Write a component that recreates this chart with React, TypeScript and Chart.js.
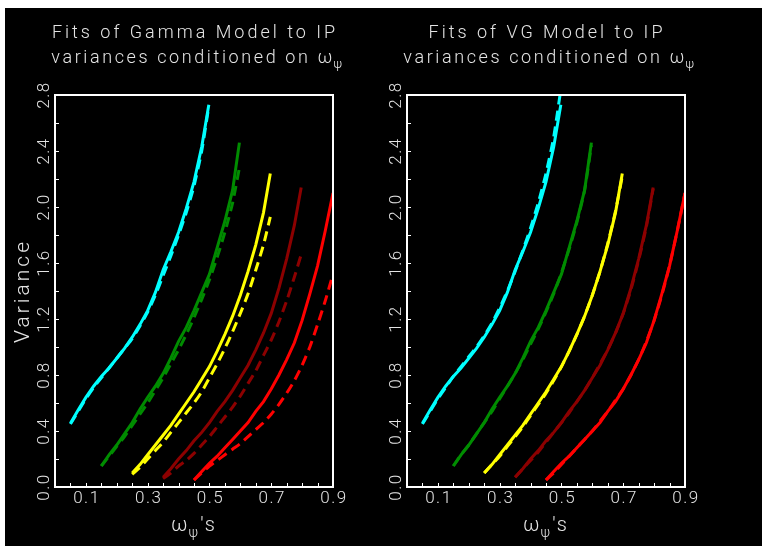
import { useEffect, useRef } from "react";
import { Chart, registerables } from "chart.js";
Chart.register(...registerables);

// ---------- data ----------
const cyanX = [0.05, 0.075, 0.1, 0.125, 0.15, 0.175, 0.2, 0.225, 0.25, 0.275, 0.3, 0.325, 0.35, 0.375, 0.4, 0.425, 0.45, 0.475, 0.498];
const cyanData = [0.455, 0.55, 0.64, 0.72, 0.79, 0.85, 0.92, 0.99, 1.07, 1.16, 1.26, 1.39, 1.55, 1.68, 1.82, 1.99, 2.18, 2.43, 2.73];
const cyanGamma = [0.45, 0.54, 0.63, 0.71, 0.78, 0.85, 0.92, 0.99, 1.06, 1.15, 1.25, 1.37, 1.51, 1.65, 1.8, 1.96, 2.15, 2.4, 2.72];
const cyanVG = [0.45, 0.54, 0.63, 0.71, 0.79, 0.86, 0.93, 1.0, 1.08, 1.17, 1.28, 1.4, 1.54, 1.69, 1.85, 2.03, 2.24, 2.5, 2.84];

const greenX = [0.15, 0.175, 0.2, 0.225, 0.25, 0.275, 0.3, 0.325, 0.35, 0.375, 0.4, 0.425, 0.45, 0.475, 0.5, 0.525, 0.55, 0.575, 0.597];
const greenData = [0.15, 0.23, 0.3, 0.38, 0.46, 0.555, 0.64, 0.72, 0.81, 0.92, 1.04, 1.14, 1.26, 1.39, 1.52, 1.71, 1.9, 2.12, 2.46];
const greenGamma = [0.15, 0.22, 0.29, 0.36, 0.44, 0.52, 0.6, 0.69, 0.78, 0.88, 0.98, 1.09, 1.21, 1.34, 1.48, 1.64, 1.82, 2.03, 2.28];
const greenVG = [0.15, 0.23, 0.3, 0.38, 0.46, 0.54, 0.63, 0.72, 0.81, 0.91, 1.02, 1.13, 1.25, 1.38, 1.53, 1.7, 1.89, 2.12, 2.44];

const yellowX = [0.25, 0.275, 0.3, 0.325, 0.35, 0.375, 0.4, 0.425, 0.45, 0.475, 0.5, 0.525, 0.55, 0.575, 0.6, 0.625, 0.65, 0.675, 0.697];
const yellowData = [0.1, 0.16, 0.23, 0.3, 0.37, 0.44, 0.52, 0.6, 0.68, 0.77, 0.86, 0.97, 1.09, 1.22, 1.37, 1.54, 1.73, 1.96, 2.24];
const yellowGamma = [0.09, 0.14, 0.2, 0.26, 0.32, 0.39, 0.46, 0.53, 0.6, 0.68, 0.78, 0.88, 0.99, 1.11, 1.24, 1.38, 1.55, 1.73, 1.93];
const yellowVG = [0.1, 0.16, 0.22, 0.29, 0.36, 0.43, 0.51, 0.59, 0.67, 0.76, 0.86, 0.97, 1.09, 1.22, 1.37, 1.54, 1.74, 1.97, 2.22];

const darkRedX = [0.35, 0.375, 0.4, 0.425, 0.45, 0.475, 0.5, 0.525, 0.55, 0.575, 0.6, 0.625, 0.65, 0.675, 0.7, 0.725, 0.75, 0.775, 0.797];
const darkRedData = [0.07, 0.13, 0.2, 0.26, 0.33, 0.39, 0.46, 0.54, 0.61, 0.69, 0.78, 0.87, 0.98, 1.1, 1.24, 1.42, 1.63, 1.87, 2.14];
const darkRedGamma = [0.06, 0.1, 0.15, 0.19, 0.24, 0.3, 0.36, 0.43, 0.5, 0.57, 0.65, 0.74, 0.83, 0.94, 1.05, 1.18, 1.33, 1.5, 1.66];
const darkRedVG = [0.07, 0.13, 0.19, 0.25, 0.32, 0.39, 0.46, 0.53, 0.61, 0.69, 0.78, 0.88, 0.98, 1.1, 1.24, 1.41, 1.62, 1.86, 2.13];

const redX = [0.45, 0.475, 0.5, 0.525, 0.55, 0.575, 0.6, 0.625, 0.65, 0.675, 0.7, 0.725, 0.75, 0.775, 0.8, 0.825, 0.85, 0.875, 0.9];
const redData = [0.05, 0.11, 0.17, 0.22, 0.28, 0.34, 0.4, 0.46, 0.54, 0.61, 0.7, 0.8, 0.91, 1.03, 1.19, 1.38, 1.58, 1.83, 2.1];
const redGamma = [0.05, 0.1, 0.15, 0.19, 0.23, 0.27, 0.31, 0.36, 0.41, 0.46, 0.52, 0.59, 0.67, 0.76, 0.87, 1.0, 1.16, 1.33, 1.52];
const redVG = [0.05, 0.1, 0.16, 0.22, 0.28, 0.34, 0.4, 0.47, 0.54, 0.62, 0.7, 0.8, 0.91, 1.04, 1.19, 1.37, 1.58, 1.83, 2.1];

const xTickMarks = [0.05, 0.1, 0.15, 0.2, 0.25, 0.3, 0.35, 0.4, 0.45, 0.5, 0.55, 0.6, 0.65, 0.7, 0.75, 0.8, 0.85];
const xLabelValues = [0.1, 0.3, 0.5, 0.7, 0.9];
const xLabels = ["0.1", "0.3", "0.5", "0.7", "0.9"];
const yTickMarks = [0.2, 0.4, 0.6, 0.8, 1.0, 1.2, 1.4, 1.6, 1.8, 2.0, 2.2, 2.4, 2.6];
const yLabelValues = [0.0, 0.4, 0.8, 1.2, 1.6, 2.0, 2.4, 2.8];
const yLabels = ["0.0", "0.4", "0.8", "1.2", "1.6", "2.0", "2.4", "2.8"];

const gammaTitle = ["Fits of Gamma Model to IP", "variances conditioned on "];
const vgTitle = ["Fits of VG Model to IP", "variances conditioned on "];
const yTitle = "Variance";

// ---------- styling ----------
const COLORS = ["#00ffff", "#008c00", "#ffff00", "#8c0000", "#ff0000"];
const TEXT = "#e4e4e4";
const FONT = "Roboto";

const pts = (xs: number[], ys: number[]) => xs.map((x, i) => ({ x, y: ys[i] }));

function drawSubText(ctx: CanvasRenderingContext2D, x: number, y: number, size: number, spacing: number, pre: string, post: string, measureOnly = false) {
  ctx.font = `300 ${size}px ${FONT}`;
  ctx.letterSpacing = `${spacing}px`;
  const w1 = ctx.measureText(pre + "ω").width;
  ctx.font = `300 ${Math.round(size * 0.7)}px ${FONT}`;
  ctx.letterSpacing = "0px";
  const w2 = ctx.measureText("ψ").width + 1;
  ctx.font = `300 ${size}px ${FONT}`;
  ctx.letterSpacing = `${spacing}px`;
  const w3 = ctx.measureText(post).width;
  const total = w1 + w2 + w3;
  if (measureOnly) return total;
  ctx.textAlign = "left";
  ctx.fillText(pre + "ω", x, y);
  ctx.font = `300 ${Math.round(size * 0.7)}px ${FONT}`;
  ctx.letterSpacing = "0px";
  ctx.fillText("ψ", x + w1 - spacing + 1, y + size * 0.3);
  ctx.font = `300 ${size}px ${FONT}`;
  ctx.letterSpacing = `${spacing}px`;
  if (post) ctx.fillText(post, x + w1 + w2, y);
  return total;
}

function makeDecor(titles: string[], showYTitle: boolean) {
  return {
    id: "decor",
    afterDraw(chart: any) {
      const ctx: CanvasRenderingContext2D = chart.ctx;
      const { left, right, top, bottom } = chart.chartArea;
      const xs = chart.scales.x;
      const ys = chart.scales.y;
      ctx.save();
      ctx.strokeStyle = "#ffffff";
      ctx.lineWidth = 2;
      ctx.strokeRect(left, top, right - left, bottom - top);
      ctx.lineWidth = 1;
      ctx.beginPath();
      for (const v of xTickMarks) {
        const px = Math.round(xs.getPixelForValue(v)) + 0.5;
        ctx.moveTo(px, bottom);
        ctx.lineTo(px, bottom - 4);
      }
      for (const v of yTickMarks) {
        const py = Math.round(ys.getPixelForValue(v)) + 0.5;
        ctx.moveTo(left, py);
        ctx.lineTo(left + 4, py);
      }
      ctx.stroke();

      ctx.fillStyle = TEXT;
      ctx.font = `300 17px ${FONT}`;
      ctx.letterSpacing = "1.5px";
      ctx.textAlign = "center";
      ctx.textBaseline = "middle";
      xLabelValues.forEach((v, i) => {
        ctx.fillText(xLabels[i], xs.getPixelForValue(v) + 1, bottom + 12);
      });
      yLabelValues.forEach((v, i) => {
        const py = ys.getPixelForValue(v);
        ctx.save();
        ctx.translate(left - 10, py);
        ctx.rotate(-Math.PI / 2);
        ctx.textAlign = "center";
        ctx.textBaseline = "middle";
        ctx.fillText(yLabels[i], 0, 0);
        ctx.restore();
      });
      if (showYTitle) {
        ctx.save();
        ctx.font = `300 21px ${FONT}`;
        ctx.letterSpacing = "3px";
        ctx.translate(left - 31, (top + bottom) / 2);
        ctx.rotate(-Math.PI / 2);
        ctx.textAlign = "center";
        ctx.textBaseline = "middle";
        ctx.fillText(yTitle, 0, 0);
        ctx.restore();
      }
      ctx.textBaseline = "alphabetic";
      const cx = (left + right) / 2;
      const wx = drawSubText(ctx, 0, 0, 20, 2, "", "'s", true);
      drawSubText(ctx, cx - wx / 2, bottom + 44, 20, 2, "", "'s");
      ctx.font = `300 18px ${FONT}`;
      ctx.letterSpacing = "3px";
      ctx.textAlign = "center";
      ctx.fillText(titles[0], cx + 1, 38);
      const wt = drawSubText(ctx, 0, 0, 18, 2.6, titles[1], "", true);
      drawSubText(ctx, cx - wt / 2 + 4, 63, 18, 2.6, titles[1], "");
      ctx.restore();
    },
  };
}

function buildDatasets(models: number[][]) {
  const xsArr = [cyanX, greenX, yellowX, darkRedX, redX];
  const dataArr = [cyanData, greenData, yellowData, darkRedData, redData];
  const ds: any[] = [];
  xsArr.forEach((xs, i) => {
    ds.push({
      data: pts(xs, dataArr[i]),
      borderColor: COLORS[i],
      borderWidth: 3,
      showLine: true,
      pointRadius: 0,
      tension: 0,
    });
    ds.push({
      data: pts(xs, models[i]),
      borderColor: COLORS[i],
      borderWidth: 3,
      borderDash: [10, 6],
      showLine: true,
      pointRadius: 0,
      tension: 0.2,
    });
  });
  return ds;
}

function Panel({ left, padLeft, padRight, titles, models, showYTitle }: any) {
  const ref = useRef<HTMLCanvasElement>(null);
  useEffect(() => {
    const chart = new Chart(ref.current!, {
      type: "scatter",
      data: { datasets: buildDatasets(models) },
      options: {
        animation: false,
        responsive: false,
        devicePixelRatio: 1,
        layout: { padding: { left: padLeft, right: padRight, top: 95, bottom: 66 } },
        plugins: { legend: { display: false }, tooltip: { enabled: false }, title: { display: false } },
        scales: {
          x: { type: "linear", min: 0, max: 0.9, display: false },
          y: { type: "linear", min: 0, max: 2.8, display: false },
        },
      },
      plugins: [makeDecor(titles, showYTitle)],
    } as any);
    return () => chart.destroy();
  }, []);
  return (
    <canvas
      ref={ref}
      width={384}
      height={553}
      style={{ position: "absolute", left, top: 0, width: 384, height: 553 }}
    />
  );
}

export default function App() {
  return (
    <div style={{ position: "fixed", left: 0, top: 0, width: 768, height: 553, background: "#fff" }}>
      <div style={{ position: "absolute", left: 5, top: 8, width: 757, height: 538, background: "#000" }} />
      <Panel
        left={0}
        padLeft={55}
        padRight={51}
        titles={gammaTitle}
        models={[cyanGamma, greenGamma, yellowGamma, darkRedGamma, redGamma]}
        showYTitle={true}
      />
      <Panel
        left={384}
        padLeft={23}
        padRight={83}
        titles={vgTitle}
        models={[cyanVG, greenVG, yellowVG, darkRedVG, redVG]}
        showYTitle={false}
      />
    </div>
  );
}
